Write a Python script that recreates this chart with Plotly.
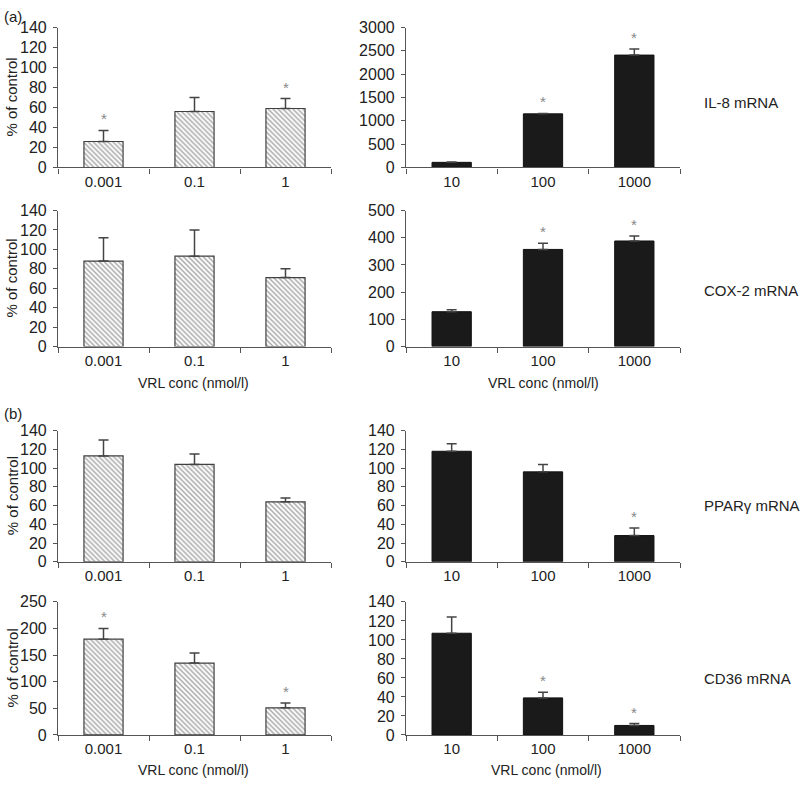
import plotly.graph_objects as go

W, H = 800, 787

low_cats = ["0.001", "0.1", "1"]
high_cats = ["10", "100", "1000"]

# (a) IL-8 mRNA
il8_low = [26, 56, 59]
il8_low_err = [11, 14, 10]
il8_low_sig = [True, False, True]
il8_high = [110, 1150, 2410]
il8_high_err = [8, 10, 130]
il8_high_sig = [False, True, True]

# (a) COX-2 mRNA
cox2_low = [88, 93, 71]
cox2_low_err = [24, 27, 9]
cox2_low_sig = [False, False, False]
cox2_high = [128, 357, 388]
cox2_high_err = [7, 23, 18]
cox2_high_sig = [False, True, True]

# (b) PPARgamma mRNA
ppar_low = [113, 104, 64]
ppar_low_err = [17, 11, 4]
ppar_low_sig = [False, False, False]
ppar_high = [118, 96, 28]
ppar_high_err = [8, 8, 8]
ppar_high_sig = [False, False, True]

# (b) CD36 mRNA
cd36_low = [180, 135, 51]
cd36_low_err = [20, 19, 9]
cd36_low_sig = [True, False, True]
cd36_high = [107, 39, 10]
cd36_high_err = [17, 6, 2]
cd36_high_sig = [False, True, True]

panels = [
    # cats, vals, err, sig, ymax, dtick, hatched, col, row
    (low_cats, il8_low, il8_low_err, il8_low_sig, 140, 20, True, 0, 0),
    (high_cats, il8_high, il8_high_err, il8_high_sig, 3000, 500, False, 1, 0),
    (low_cats, cox2_low, cox2_low_err, cox2_low_sig, 140, 20, True, 0, 1),
    (high_cats, cox2_high, cox2_high_err, cox2_high_sig, 500, 100, False, 1, 1),
    (low_cats, ppar_low, ppar_low_err, ppar_low_sig, 140, 20, True, 0, 2),
    (high_cats, ppar_high, ppar_high_err, ppar_high_sig, 140, 20, False, 1, 2),
    (low_cats, cd36_low, cd36_low_err, cd36_low_sig, 250, 50, True, 0, 3),
    (high_cats, cd36_high, cd36_high_err, cd36_high_sig, 140, 20, False, 1, 3),
]

# pixel positions of each plot area
col_px = [(58, 331), (406, 680)]
row_px = [(20, 163), (207, 346), (432, 566), (607, 743)]


def px(x):
    return x / W


def py(y):
    return 1 - y / H


FONT = "Liberation Sans, Arial, Helvetica, sans-serif"
AX = "#555555"
TXT = "#222222"

fig = go.Figure()
layout = {}
annotations = []


def label(txt, x, y, xanchor="center", size=15, angle=0):
    annotations.append(dict(x=px(x), y=py(y), xref="paper", yref="paper",
                            text=txt, showarrow=False, textangle=angle,
                            xanchor=xanchor, yanchor="middle",
                            font=dict(family=FONT, size=size, color=TXT)))


for i, (cats, vals, err, sig, ymax, dtick, hatched, col, row) in enumerate(panels):
    n = i + 1
    xa = "x" if n == 1 else f"x{n}"
    ya = "y" if n == 1 else f"y{n}"
    if hatched:
        marker = dict(color="white",
                      pattern=dict(shape="\\", fgcolor="#404040", bgcolor="white",
                                   size=3.5, solidity=0.38),
                      line=dict(color="#404040", width=1.2))
    else:
        marker = dict(color="#1a1a1a", line=dict(color="#111111", width=1))
    fig.add_trace(go.Bar(
        x=cats, y=vals, xaxis=xa, yaxis=ya, width=0.43, marker=marker,
        error_y=dict(type="data", array=err, arrayminus=[0] * len(err),
                     symmetric=False, color="#444444", thickness=1.5, width=5),
        showlegend=False, hoverinfo="skip",
    ))
    x0, x1 = col_px[col]
    y0, y1 = row_px[row]
    layout[f"xaxis{n}"] = dict(
        domain=[px(x0), px(x1)], anchor=ya, type="category",
        range=[-0.5, 2.5], tickson="boundaries", ticks="outside", ticklen=5,
        tickcolor=AX, showline=True, linecolor=AX, linewidth=1.2,
        showgrid=False, zeroline=False,
        tickfont=dict(family=FONT, size=15, color=TXT), fixedrange=True,
    )
    layout[f"yaxis{n}"] = dict(
        domain=[py(y1), py(y0)], anchor=xa, range=[0, ymax],
        dtick=dtick, ticks="outside", ticklen=4, tickcolor=AX,
        ticklabelstandoff=3,
        showline=True, linecolor=AX, linewidth=1.2, showgrid=False,
        zeroline=False, tickfont=dict(family=FONT, size=16, color=TXT),
        fixedrange=True,
    )
    for k, (v, e, s) in enumerate(zip(vals, err, sig)):
        if s:
            annotations.append(dict(
                x=k, y=v + e, xref=xa, yref=ya, text="*", showarrow=False,
                xanchor="center", yanchor="bottom", yshift=1,
                font=dict(family=FONT, size=15, color="#888888")))
    if col == 0:
        label("% of control", 12, (y0 + y1) / 2, angle=-90)

gene_labels = [("IL-8 mRNA", 97), ("COX-2 mRNA", 289),
               ("PPARγ mRNA", 508), ("CD36 mRNA", 685)]
for txt, yp in gene_labels:
    label(txt, 702, yp, xanchor="left")

for xp, yp in [(193, 383), (543, 383), (193, 779), (546, 779)]:
    label("VRL conc (nmol/l)", xp, yp, size=14)

for txt, yp in [("(a)", 9), ("(b)", 414)]:
    label(txt, 2, yp, xanchor="left")

fig.update_layout(
    width=W, height=H, margin=dict(l=0, r=0, t=0, b=0),
    paper_bgcolor="white", plot_bgcolor="white",
    annotations=annotations, **layout,
)

# remove the browser's default page margin so the figure fills the window
fig.write_html("out.html", config={"displayModeBar": False},
               post_script="document.body.style.margin='0';"
                           "document.body.style.overflow='hidden';")
